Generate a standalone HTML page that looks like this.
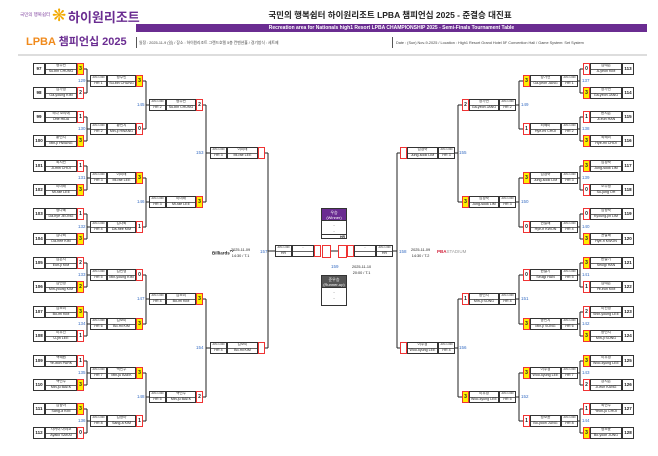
<!DOCTYPE html>
<html><head><meta charset="utf-8">
<style>
*{margin:0;padding:0;box-sizing:border-box}
body{width:658px;height:456px;background:#fff;position:relative;overflow:hidden;font-family:"Liberation Sans","Noto Sans CJK KR",sans-serif;color:#222}
.a{position:absolute}
.c{position:absolute;border:1px solid #333;background:#fff;font-size:3.6px;line-height:1;text-align:center;overflow:hidden;white-space:nowrap}
.s{border:1px solid #e33;font-size:5px;font-weight:bold;display:flex;align-items:center;justify-content:center}
.y{background:#ffee00}
.nm{display:flex;flex-direction:column}
.nm div{flex:1;display:flex;align-items:center;justify-content:center}
.nm div:first-child{border-bottom:1px solid #666}
.num{display:flex;align-items:center;justify-content:center;font-size:4.5px;font-weight:bold}
.lb{position:absolute;font-size:4.5px;color:#3a6fc4}
</style></head><body>
<div class="a" style="left:20px;top:12px;font-size:4.5px;color:#7a3a9a">국민의 행복쉼터</div>
<div class="a" style="left:52px;top:6px;font-size:17px;color:#f2a900">❋</div>
<div class="a" style="left:68px;top:7px;font-size:13px;font-weight:bold;color:#6a2c91">하이원리조트</div>
<div class="a" style="left:26px;top:33px;font-size:11px;font-weight:bold;color:#f08a1c">LPBA <span style="color:#6a2c91">챔피언십 2025</span></div>
<div class="a" style="left:200px;top:9px;width:380px;text-align:center;font-size:8.5px;font-weight:bold">국민의 행복쉼터 하이원리조트 LPBA 챔피언십 2025 - 준결승 대진표</div>
<div class="a" style="left:136px;top:24px;width:511px;height:8px;background:#6a2c91;color:#fff;font-size:5px;font-weight:bold;text-align:center;line-height:8px">Recreation area for Nationals high1 Resort LPBA CHAMPIONSHIP 2025 - Semi-Finals Tournament Table</div>
<div class="a" style="left:136px;top:37px;width:1px;height:11px;background:#555"></div>
<div class="a" style="left:139px;top:41px;font-size:3.8px;color:#444">일정 : 2025-11-9 (일) / 장소 : 하이원리조트 그랜드호텔 5층 컨벤션홀 / 경기방식 : 세트제</div>
<div class="a" style="left:392px;top:37px;width:1px;height:11px;background:#555"></div>
<div class="a" style="left:396px;top:41px;font-size:3.8px;color:#444">Date : (Sun) Nov-9-2025 / Location : High1 Resort Grand Hotel 5F Convention Hall / Game System: Set System</div>
<div class="a" style="left:18px;top:54px;width:629px;height:2px;background:#ddd"></div>
<svg class="a" id="sv" style="left:0;top:0" width="658" height="456"></svg>
<div id="root"></div>

<div class="a" style="left:212px;top:249px;font-size:4.5px;font-weight:bold">Billiards<sup style="font-size:3px">TV</sup></div>
<div class="a" style="left:231px;top:247px;font-size:3.8px;line-height:6px;text-align:center">2025-11-09<br>14:30 / T.1</div>
<div class="a" style="left:411px;top:247px;font-size:3.8px;line-height:6px;text-align:center">2025-11-09<br>14:30 / T.2</div>
<div class="a" style="left:437px;top:249px;font-size:4.5px;font-weight:bold;color:#d2233c">PBA<span style="color:#999;font-weight:normal">STADIUM</span></div>
<div class="lb" style="left:260px;top:249px">157</div>
<div class="lb" style="left:399px;top:249px">158</div>
<div class="lb" style="left:331px;top:264px">159</div>
<div class="a" style="left:352px;top:264px;font-size:3.8px;line-height:6px;text-align:center">2025-11-10<br>20:00 / T.1</div>

<div class="c" style="left:321px;top:208px;width:26px;height:31px;border-color:#333"></div>
<div class="c" style="left:321px;top:208px;width:26px;height:13px;background:#6a2c91;color:#fff;font-size:4px;line-height:5px;padding-top:1px">우승<br>(Winner)</div>
<div class="a" style="left:321px;top:222px;width:26px;text-align:center;font-size:4px">-</div>
<div class="a" style="left:321px;top:228px;width:26px;text-align:center;font-size:4px">-</div>
<div class="a" style="left:321px;top:234px;width:26px;height:1px;background:#333"></div>
<div class="a" style="left:340px;top:235px;font-size:3.5px;font-weight:bold">HR</div>
<div class="c" style="left:321px;top:275px;width:26px;height:31px"></div>
<div class="c" style="left:321px;top:275px;width:26px;height:13px;background:#555;color:#fff;font-size:4px;line-height:5px;padding-top:1px">준우승<br>(Runner-up)</div>
<div class="a" style="left:321px;top:289px;width:26px;text-align:center;font-size:4px">-</div>
<div class="a" style="left:321px;top:295px;width:26px;text-align:center;font-size:4px">-</div>

<script>
const root=document.getElementById('root'),sv=document.getElementById('sv');
function cell(x,y,w,h,cls,html){const d=document.createElement('div');d.className='c '+cls;d.style.cssText=`left:${x}px;top:${y}px;width:${w}px;height:${h}px`;d.innerHTML=html;root.appendChild(d);}
function nm(k,e){return `<div>${k}</div><div>${e}</div>`}
function line(x1,y1,x2,y2){sv.innerHTML+=`<line x1="${x1}" y1="${y1}" x2="${x2}" y2="${y2}" stroke="#222" stroke-width="1"/>`}
function lab(x,y,t){const d=document.createElement('div');d.className='lb';d.style.left=x+'px';d.style.top=(y-3)+'px';d.textContent=t;root.appendChild(d);}
const H=12;
function r1(x,yc,side,d){const y=yc-H/2;const sc=`s ${d[4]?'y':''}`;
 if(side=='L'){cell(x,y,12,H,'num',d[0]);cell(x+12,y,32,H,'nm',nm(d[1],d[2]));cell(x+44,y,7,H,sc,d[3]);}
 else{cell(x,y,7,H,sc,d[3]);cell(x+7,y,32,H,'nm',nm(d[1],d[2]));cell(x+39,y,12,H,'num',d[0]);}}
function rn(x,yc,side,w,d,hr){const y=yc-H/2;const sc=`s ${d[3]?'y':''}`;const sm=nm('<span style="font-size:2.5px">AVG 1.000</span>','HR '+hr);
 if(side=='L'){cell(x,y,17,H,'nm',sm);cell(x+17,y,w-24,H,'nm',nm(d[0],d[1]));cell(x+w-7,y,7,H,sc,d[2]);}
 else{cell(x,y,7,H,sc,d[2]);cell(x+7,y,w-24,H,'nm',nm(d[0],d[1]));cell(x+w-17,y,17,H,'nm',sm);}}
const Y1=[69,93,117,141,166,190,214,239,263,287,312,336,361,385,409,433];
const Y2=[81,129,178,227,275,324,373,421],Y3=[105,202,299,397],Y4=[153,348];
const L1=[[97,'정수빈','Su-bin CHUNG',3,1],[98,'김가영','Ga-young KIM',2,0],[99,'히다 오리에','Orie HIDA',1,0],[100,'황민지','Min-ji HWANG',3,1],
[101,'최지민','Ji-min CHOI',1,0],[102,'이미래','Mi-rae LEE',3,1],[103,'정다혜','Da-hye JEONG',1,0],[104,'김다희','Da-hee KIM',3,1],
[105,'김은지','Eun-ji KIM',2,0],[106,'김민영','Min-young KIM',2,1],[107,'김보미','Bo-mi KIM',3,1],[108,'이우진','U-jin LEE',1,0],
[109,'백혜원','Ye-won PARK',1,0],[110,'백민주','Min-ju BAEK',3,1],[111,'김상아','Sang-a KIM',3,1],[112,'사카이 아야코','Ayako SAKAI',0,0]];
const L2=[['정수빈','Su-bin CHUNG',3,1],['황민지','Min-ji HWANG',0,0],['이미래','Mi-rae LEE',3,1],['김다희','Da-hee KIM',1,0],['김민영','Min-young KIM',0,0],['김보미','Bo-mi KIM',3,1],['백민주','Min-ju BAEK',3,1],['김상아','Sang-a KIM',1,0]];
const L3=[['정수빈','Su-bin CHUNG',2,0],['이미래','Mi-rae LEE',3,1],['김보미','Bo-mi KIM',3,1],['백민주','Min-ju BAEK',2,0]];
const L4=[['이미래','Mi-rae LEE','',0],['김보미','Bo-mi KIM','',0]];
const R1=[[113,'김예은','A-yeon KIM',0,0],[114,'장가연','Ga-yeon JANG',3,1],[115,'한지은','Ji-eun HAN',1,0],[116,'최혜미','Hye-mi CHOI',3,1],
[117,'임경숙','Jung-sook LIM',3,1],[118,'오수정','Su-jung OH',0,0],[119,'임정숙','Kyoung-jin LIM',0,0],[120,'권발해','Hye-ri KWON',3,1],
[121,'한슬기','Seulgi HAN',3,1],[122,'김예은','Ye-eun KIM',1,0],[123,'이신영','Shin-young LEE',2,0],[124,'송민지','Min-ji SONG',3,1],
[125,'이우경','Woo-kyung LEE',3,1],[126,'강지은','Ji-eun KANG',2,0],[127,'최연주','Yeon-ju CHOI',1,0],[128,'정보윤','Bo-yoon JUNG',3,1]];
const R2=[['장가연','Ga-yeon JANG',3,1],['최혜미','Hye-mi CHOI',1,0],['임경숙','Jung-sook LIM',3,1],['권발해','Hye-ri KWON',0,0],['한슬기','Seulgi HAN',0,0],['송민지','Min-ji SONG',3,1],['이우경','Woo-kyung LEE',3,1],['정보윤','Bo-yoon JUNG',1,0]];
const R3=[['장가연','Ga-yeon JANG',2,0],['임경숙','Jung-sook LIM',3,1],['송민지','Min-ji SONG',1,0],['이우경','Woo-kyung LEE',3,1]];
const R4=[['임경숙','Jung-sook LIM','',0],['이우경','Woo-kyung LEE','',0]];
function conn(ys,yp,xe,vx,xp,lbx,labs,n0){for(let i=0;i<yp.length;i++){const a=ys[2*i],b=ys[2*i+1];line(xe,a,vx,a);line(xe,b,vx,b);line(vx,a,vx,b);line(vx,yp[i],xp,yp[i]);lab(lbx,yp[i],n0+i);}}
Y1.forEach((y,i)=>r1(33,y,'L',L1[i]));
Y2.forEach((y,i)=>rn(90,y,'L',53,L2[i],i+1));
Y3.forEach((y,i)=>rn(149,y,'L',54,L3[i],i+2));
Y4.forEach((y,i)=>rn(210,y,'L',55,L4[i],i+3));
conn(Y1,Y2,84,87,90,78,0,129);conn(Y2,Y3,143,146,149,137,0,145);conn(Y3,Y4,203,206,210,196,0,153);
line(265,153,268,153);line(265,348,268,348);line(268,153,268,348);line(268,251,275,251);
Y1.forEach((y,i)=>r1(583,y,'R',R1[i]));
Y2.forEach((y,i)=>rn(523,y,'R',55,R2[i],i+1));
Y3.forEach((y,i)=>rn(462,y,'R',54,R3[i],i+2));
Y4.forEach((y,i)=>rn(400,y,'R',55,R4[i],i+3));
conn(Y1,Y2,583,580,578,582,0,137);conn(Y2,Y3,523,519,516,521,0,149);conn(Y3,Y4,462,458,455,459,0,155);
line(400,153,397,153);line(400,348,397,348);line(397,153,397,348);line(393,251,397,251);
rn(275,251,'L',46,['-','','',0],'');
cell(322,245,9,13,'s','');cell(338,245,9,13,'s','');line(331,251,338,251);
rn(347,251,'R',46,['-','','',0],'');
</script>
</body></html>
